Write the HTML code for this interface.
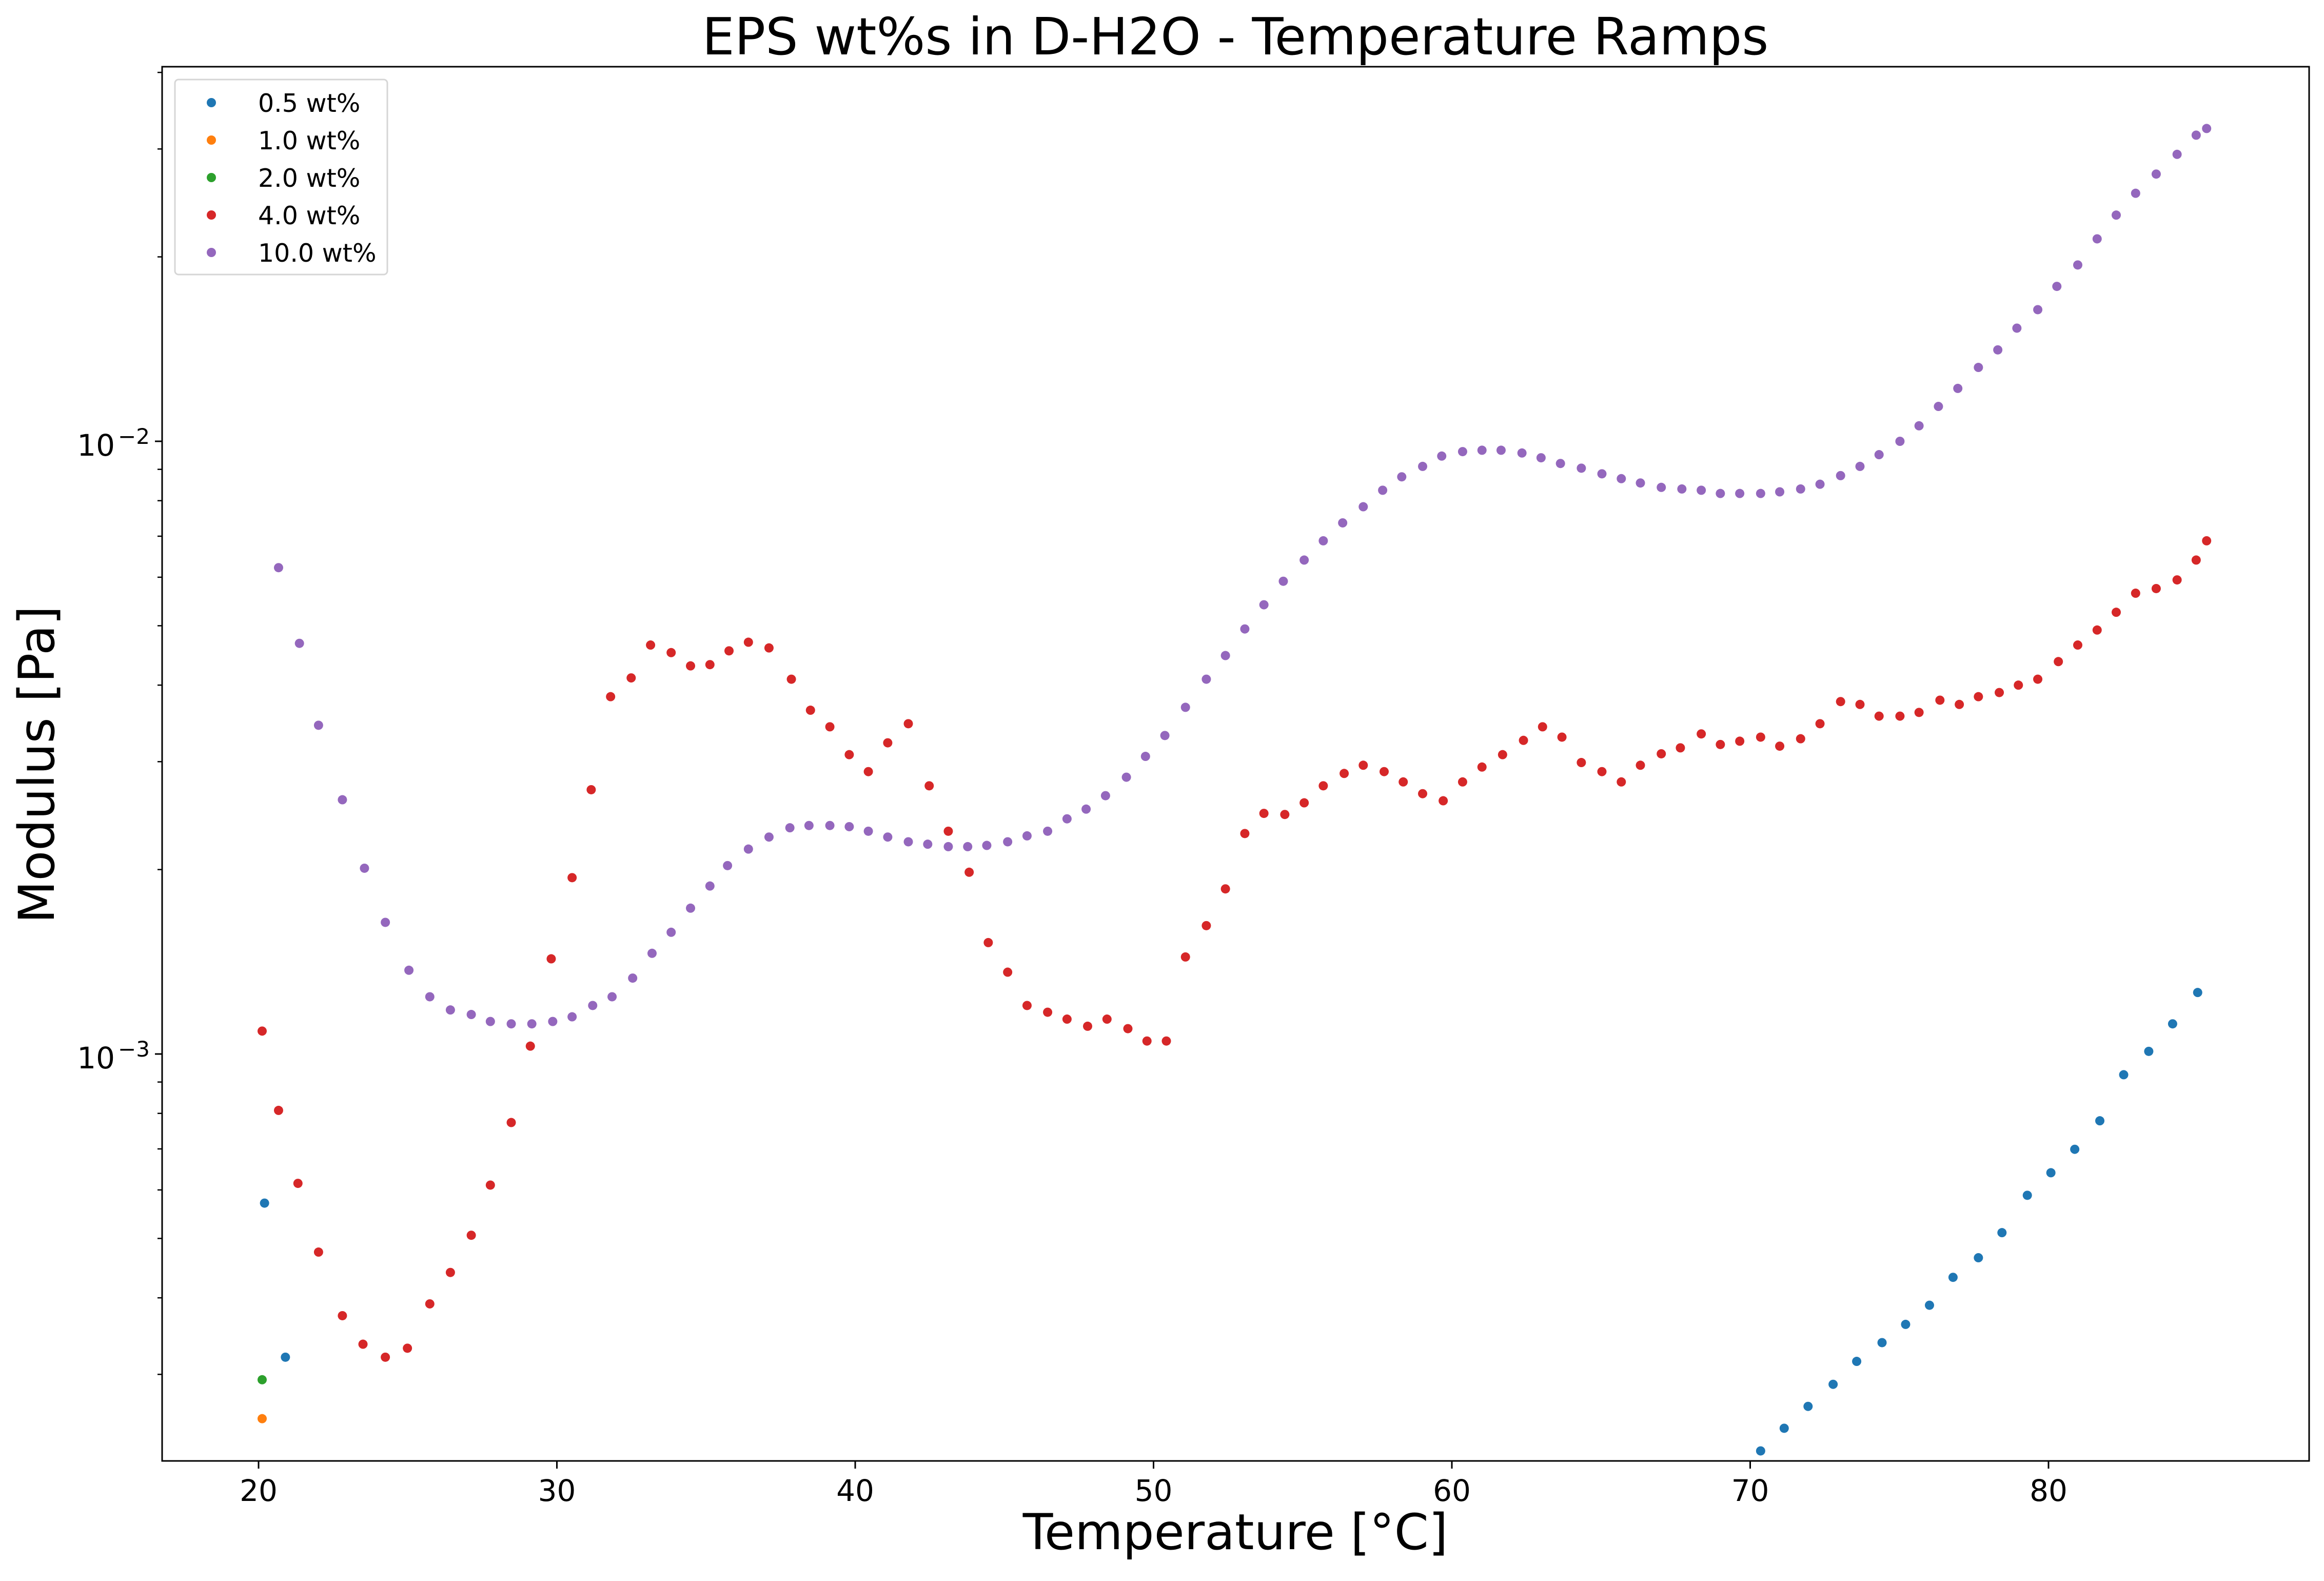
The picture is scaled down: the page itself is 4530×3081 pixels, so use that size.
<!DOCTYPE html>
<html>
<head>
<meta charset="utf-8">
<style>
  html, body { margin: 0; padding: 0; background: #fff; }
  svg { display: block; }
  text { font-family: "DejaVu Sans", "Liberation Sans", sans-serif; fill: #000; }
</style>
</head>
<body>
<svg id="chart" width="4530" height="3081" viewBox="0 0 4530 3081" xmlns="http://www.w3.org/2000/svg">
  <rect x="0" y="0" width="4530" height="3081" fill="#fff"/>
  <text x="2408" y="106" font-size="100" text-anchor="middle">EPS wt%s in D-H2O - Temperature Ramps</text>
  <text x="2408" y="3019" font-size="96" text-anchor="middle">Temperature [°C]</text>
  <text x="0" y="0" font-size="96" text-anchor="middle" transform="translate(105,1490) rotate(-90)">Modulus [Pa]</text>
  <g id="ticks"></g>
  <g id="marks"></g>
  <rect x="316" y="130" width="4185" height="2717" fill="none" stroke="#000" stroke-width="3"/>
  <g>
    <rect x="341" y="155" width="414" height="380" rx="7" fill="#fff" fill-opacity="0.8" stroke="#d6d6d6" stroke-width="3"/>
    <g><circle cx="412" cy="200" r="9" fill="#1f77b4"/><text x="503" y="218" font-size="49">0.5 wt%</text></g>
    <g><circle cx="412" cy="273" r="9" fill="#ff7f0e"/><text x="503" y="291" font-size="49">1.0 wt%</text></g>
    <g><circle cx="412" cy="346" r="9" fill="#2ca02c"/><text x="503" y="364" font-size="49">2.0 wt%</text></g>
    <g><circle cx="412" cy="419" r="9" fill="#d62728"/><text x="503" y="437" font-size="49">4.0 wt%</text></g>
    <g><circle cx="412" cy="492" r="9" fill="#9467bd"/><text x="503" y="510" font-size="49">10.0 wt%</text></g>
  </g>
</svg>
<script>
// ---- data (modulus values in Pa) ----
const xTicks = [20, 30, 40, 50, 60, 70, 80];
const yMajorExponents = [-3, -2];
const yMinorValues = [3e-4,4e-4,5e-4,6e-4,7e-4,8e-4,9e-4,2e-3,3e-3,4e-3,5e-3,6e-3,7e-3,8e-3,9e-3,2e-2,3e-2,4e-2];

const tempBlue = [20.2,20.9,70.35,71.14,71.94,72.78,73.57,74.42,75.21,76.01,76.8,77.65,78.44,79.29,80.08,80.88,81.72,82.52,83.36,84.16,85.0];
const modBlue = [0.571e-3,0.320e-3,0.225e-3,0.245e-3,0.266e-3,0.289e-3,0.315e-3,0.338e-3,0.362e-3,0.389e-3,0.432e-3,0.465e-3,0.511e-3,0.588e-3,0.640e-3,0.699e-3,0.778e-3,0.925e-3,1.01e-3,1.12e-3,1.26e-3];

const tempOrange = [20.12];
const modOrange = [0.254e-3];

const tempGreen = [20.12];
const modGreen = [0.294e-3];

const tempRed = [20.12,20.67,21.32,22.01,22.81,23.5,24.25,24.99,25.74,26.43,27.13,27.77,28.47,29.11,29.81,30.51,31.15,31.8,32.49,33.14,33.83,34.48,35.13,35.77,36.42,37.11,37.86,38.5,39.15,39.8,40.44,41.09,41.78,42.48,43.12,43.82,44.46,45.11,45.76,46.45,47.1,47.79,48.44,49.14,49.78,50.43,51.07,51.77,52.41,53.06,53.7,54.4,55.05,55.69,56.39,57.03,57.73,58.37,59.02,59.71,60.36,61.01,61.7,62.4,63.04,63.69,64.34,65.03,65.68,66.32,67.02,67.66,68.36,69.0,69.65,70.35,70.99,71.69,72.34,73.03,73.68,74.32,75.02,75.66,76.36,77.01,77.65,78.35,78.99,79.64,80.33,80.98,81.63,82.27,82.92,83.61,84.31,84.95,85.3];
const modRed = [1.09e-3,0.809e-3,0.615e-3,0.475e-3,0.374e-3,0.336e-3,0.320e-3,0.331e-3,0.391e-3,0.440e-3,0.506e-3,0.611e-3,0.773e-3,1.03e-3,1.43e-3,1.94e-3,2.70e-3,3.83e-3,4.11e-3,4.65e-3,4.52e-3,4.30e-3,4.32e-3,4.55e-3,4.70e-3,4.60e-3,4.09e-3,3.64e-3,3.42e-3,3.08e-3,2.89e-3,3.22e-3,3.46e-3,2.74e-3,2.31e-3,1.98e-3,1.52e-3,1.36e-3,1.20e-3,1.17e-3,1.14e-3,1.11e-3,1.14e-3,1.10e-3,1.05e-3,1.05e-3,1.44e-3,1.62e-3,1.86e-3,2.29e-3,2.47e-3,2.46e-3,2.57e-3,2.74e-3,2.87e-3,2.96e-3,2.89e-3,2.78e-3,2.66e-3,2.59e-3,2.78e-3,2.94e-3,3.08e-3,3.25e-3,3.42e-3,3.29e-3,2.99e-3,2.89e-3,2.78e-3,2.96e-3,3.09e-3,3.16e-3,3.33e-3,3.20e-3,3.24e-3,3.29e-3,3.18e-3,3.27e-3,3.46e-3,3.76e-3,3.72e-3,3.56e-3,3.56e-3,3.61e-3,3.78e-3,3.72e-3,3.83e-3,3.89e-3,4.00e-3,4.09e-3,4.37e-3,4.65e-3,4.92e-3,5.26e-3,5.65e-3,5.75e-3,5.94e-3,6.40e-3,6.88e-3];

const tempPurple = [20.67,21.37,22.01,22.81,23.55,24.25,25.04,25.74,26.43,27.13,27.77,28.47,29.16,29.86,30.51,31.2,31.85,32.54,33.19,33.83,34.48,35.13,35.72,36.42,37.11,37.81,38.45,39.15,39.8,40.44,41.09,41.78,42.43,43.12,43.77,44.41,45.11,45.76,46.45,47.1,47.74,48.39,49.09,49.73,50.38,51.07,51.77,52.41,53.06,53.7,54.35,55.05,55.69,56.34,57.03,57.68,58.32,59.02,59.66,60.36,61.01,61.65,62.35,62.99,63.64,64.34,65.03,65.68,66.32,67.02,67.71,68.36,69.0,69.65,70.35,70.99,71.69,72.34,73.03,73.68,74.32,75.02,75.66,76.31,76.96,77.65,78.3,78.94,79.64,80.28,80.98,81.63,82.27,82.92,83.61,84.31,84.95,85.3];
const modPurple = [6.22e-3,4.68e-3,3.44e-3,2.60e-3,2.01e-3,1.64e-3,1.37e-3,1.24e-3,1.18e-3,1.16e-3,1.13e-3,1.12e-3,1.12e-3,1.13e-3,1.15e-3,1.20e-3,1.24e-3,1.33e-3,1.46e-3,1.58e-3,1.73e-3,1.88e-3,2.03e-3,2.16e-3,2.26e-3,2.34e-3,2.36e-3,2.36e-3,2.35e-3,2.31e-3,2.26e-3,2.22e-3,2.20e-3,2.18e-3,2.18e-3,2.19e-3,2.22e-3,2.27e-3,2.31e-3,2.42e-3,2.51e-3,2.64e-3,2.83e-3,3.06e-3,3.31e-3,3.68e-3,4.09e-3,4.47e-3,4.94e-3,5.41e-3,5.91e-3,6.40e-3,6.88e-3,7.36e-3,7.82e-3,8.32e-3,8.75e-3,9.10e-3,9.46e-3,9.62e-3,9.67e-3,9.67e-3,9.57e-3,9.40e-3,9.20e-3,9.04e-3,8.85e-3,8.69e-3,8.55e-3,8.41e-3,8.36e-3,8.32e-3,8.22e-3,8.22e-3,8.22e-3,8.27e-3,8.36e-3,8.51e-3,8.79e-3,9.10e-3,9.51e-3,10.0e-3,10.6e-3,11.4e-3,12.2e-3,13.2e-3,14.1e-3,15.3e-3,16.4e-3,17.9e-3,19.4e-3,21.4e-3,23.4e-3,25.4e-3,27.3e-3,29.4e-3,31.6e-3,32.4e-3];

// ---- axes ----
const NS = 'http://www.w3.org/2000/svg';
const PX_PER_DEG = (3993 - 504) / 60;
function xScale(t) { return 504 + (t - 20) * PX_PER_DEG; }
function yScale(v) { return 2054 - (Math.log10(v) + 3) * 1194; }

const ticks = document.getElementById('ticks');
const marks = document.getElementById('marks');

function mk(tag, attrs, parent) {
  const el = document.createElementNS(NS, tag);
  for (const k in attrs) el.setAttribute(k, attrs[k]);
  parent.appendChild(el);
  return el;
}

xTicks.forEach(function (t) {
  const x = xScale(t);
  const ln = mk('line', {x1: x, x2: x, y1: 2847, y2: 2862, stroke: '#000', 'stroke-width': 3}, ticks);
  
  
  const tx = mk('text', {x: x, y: 2925, 'font-size': 58, 'text-anchor': 'middle'}, ticks);
  tx.textContent = String(t);
  
  
});

yMajorExponents.forEach(function (e) {
  const y = yScale(Math.pow(10, e));
  const ln = mk('line', {x1: 302, x2: 316, y1: y, y2: y, stroke: '#000', 'stroke-width': 3}, ticks);
  
  
  const base = mk('text', {x: 224, y: y + 28, 'font-size': 58, 'text-anchor': 'end'}, ticks);
  base.textContent = '10';
  
  
  const sup = mk('text', {x: 230, y: y + 5, 'font-size': 42, 'text-anchor': 'start'}, ticks);
  sup.textContent = '\u2212' + Math.abs(e);
  
  
});

yMinorValues.forEach(function (v) {
  const y = yScale(v);
  const ln = mk('line', {x1: 307, x2: 316, y1: y, y2: y, stroke: '#000', 'stroke-width': 2.5}, ticks);
  
  
});

function drawSeries(temps, vals, color, name) {
  const g = mk('g', {}, marks);
  
  
  for (let i = 0; i < temps.length; i++) {
    const c = mk('circle', {cx: xScale(temps[i]), cy: yScale(vals[i]), r: 9, fill: color}, g);
    
    
  }
}

drawSeries(tempBlue, modBlue, '#1f77b4', '0-5-wt');
drawSeries(tempOrange, modOrange, '#ff7f0e', '1-0-wt');
drawSeries(tempGreen, modGreen, '#2ca02c', '2-0-wt');
drawSeries(tempRed, modRed, '#d62728', '4-0-wt');
drawSeries(tempPurple, modPurple, '#9467bd', '10-0-wt');
</script>
</body>
</html>
